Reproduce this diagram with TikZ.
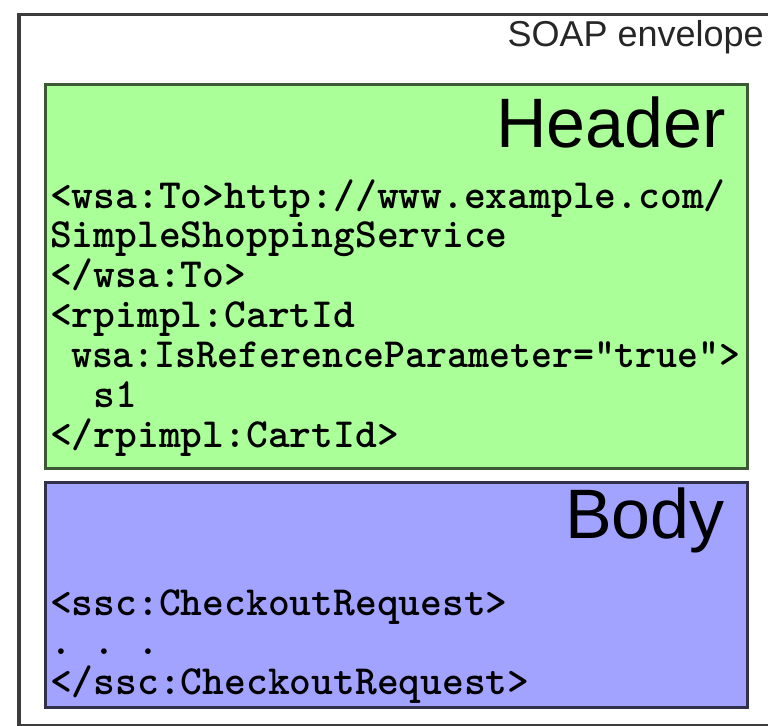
\documentclass[tikz,border=0pt]{standalone}
\usepackage{fontspec}
\usepackage{graphicx}
\newfontfamily\labelfont{Liberation Sans}
\usetikzlibrary{positioning}
\definecolor{hdrgreen}{RGB}{170,255,153}
\definecolor{bodyblue}{RGB}{162,162,255}
\definecolor{envgray}{RGB}{60,60,60}
\tikzset{
  envbox/.style={rectangle, draw=envgray, line width=3.5bp, fill=white,
                 anchor=north west, inner sep=0pt},
  partbox/.style={rectangle, line width=3bp, anchor=north west, inner sep=0pt,
                  minimum width=702bp},
  parttitle/.style={inner sep=0pt, anchor=base east,
                    font=\fontsize{70bp}{80bp}\selectfont\labelfont},
  codeline/.style={inner sep=0pt, text height=28bp, text depth=11.5bp,
                   font=\fontsize{41.5bp}{39.5bp}\selectfont\ttfamily\bfseries},
}

\begin{document}
\begin{tikzpicture}[x=1bp, y=-1bp]
    \useasboundingbox (0,0) rectangle (768,726);
    \node[envbox, minimum width=780bp, minimum height=711bp] (envelope) at (17,13) {};
    \node[anchor=base east, inner sep=0pt, text=black!85,
          font=\fontsize{36bp}{40bp}\selectfont\labelfont] (envlabel) at (764,47)
          {SOAP envelope};

    \node[partbox, fill=hdrgreen, draw=hdrgreen!35!black, minimum height=384bp]
          (header) at (44,83) {};
    \node[parttitle] (hdrtitle) at (726,148) {Header};
    \node[codeline, anchor=base west] (hline1) at (50,208) {<wsa:To>http://www.example.com/};
    \node[codeline, below=0pt of hline1.south west, anchor=north west] (hline2) {SimpleShoppingService};
    \node[codeline, below=0pt of hline2.south west, anchor=north west] (hline3) {</wsa:To>};
    \node[codeline, below=0pt of hline3.south west, anchor=north west] (hline4) {<rpimpl:CartId};
    \node[codeline, below=0pt of hline4.south west, anchor=north west] (hline5)
          {\scalebox{0.96}[1]{\ wsa:IsReferenceParameter="true">}};
    \node[codeline, below=0pt of hline5.south west, anchor=north west] (hline6) {\ \ s1};
    \node[codeline, below=0pt of hline6.south west, anchor=north west] (hline7) {</rpimpl:CartId>};

    \node[partbox, fill=bodyblue, draw=bodyblue!30!black, minimum height=225bp]
          (body) at (44,481) {};
    \node[parttitle] (bodytitle) at (725,538) {Body};
    \node[codeline, anchor=base west] (bline1) at (50,615) {<ssc:CheckoutRequest>};
    \node[codeline, below=0pt of bline1.south west, anchor=north west] (bline2) {.\ .\ .};
    \node[codeline, below=0pt of bline2.south west, anchor=north west] (bline3) {</ssc:CheckoutRequest>};
  \end{tikzpicture}
\end{document}
